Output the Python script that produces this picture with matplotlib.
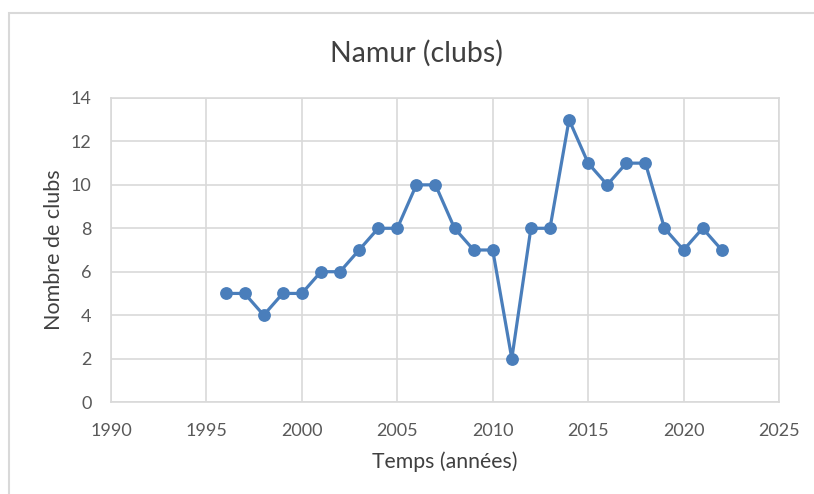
import matplotlib
matplotlib.use("Agg")
import matplotlib.pyplot as plt
from matplotlib.patches import Rectangle

years = [1996, 1997, 1998, 1999, 2000, 2001, 2002, 2003, 2004, 2005, 2006, 2007, 2008,
         2009, 2010, 2011, 2012, 2013, 2014, 2015, 2016, 2017, 2018, 2019, 2020, 2021, 2022]
clubs = [5, 5, 4, 5, 5, 6, 6, 7, 8, 8, 10, 10, 8, 7, 7, 2, 8, 8, 13, 11, 10, 11, 11, 8, 7, 8, 7]
x_ticks = [1990, 1995, 2000, 2005, 2010, 2015, 2020, 2025]
y_ticks = [0, 2, 4, 6, 8, 10, 12, 14]

plt.rcParams['font.family'] = ['Lato', 'DejaVu Sans']
W, H = 814, 494
fig = plt.figure(figsize=(W / 100, H / 100), dpi=100)
fig.patch.set_facecolor('white')

# outer chart border
fig.patches.append(Rectangle((9 / W, -0.05), 1.2, 1 - 13 / H + 0.05, transform=fig.transFigure,
                             fill=False, edgecolor='#d9d9d9', linewidth=1.5))

ax = fig.add_axes([111 / W, 1 - 402 / H, (779 - 111) / W, (402 - 98) / H])
ax.plot(years, clubs, color='#4A7EBB', linewidth=2.3, marker='o', markersize=8.2, zorder=3)
ax.set_xlim(1990, 2025)
ax.set_ylim(0, 14)
ax.set_xticks(x_ticks)
ax.set_yticks(y_ticks)
ax.grid(True, color='#d9d9d9', linewidth=1.2)
for s in ax.spines.values():
    s.set_color('#d9d9d9')
    s.set_linewidth(1.2)
ax.tick_params(length=0, colors='#595959', labelsize=13)
ax.tick_params(axis='x', pad=15)
ax.tick_params(axis='y', pad=14)
ax.set_axisbelow(True)

fig.text(416 / W, 1 - 62 / H, 'Namur (clubs)', fontsize=20.5, color='#404040',
         ha='center', va='baseline')
ax.set_xlabel('Temps (années)', fontsize=15.3, color='#404040', labelpad=9)
ax.set_ylabel('Nombre de clubs', fontsize=15.5, color='#404040', labelpad=5)

fig.savefig('out.png', dpi=100)
